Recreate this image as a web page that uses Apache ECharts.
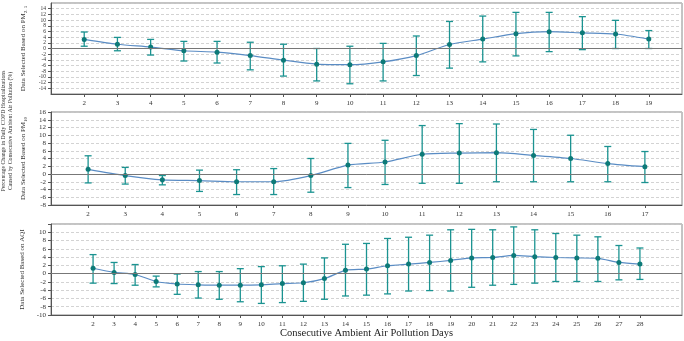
<!DOCTYPE html>
<html>
<head>
<meta charset="utf-8">
<script src="https://cdn.jsdelivr.net/npm/echarts@6/dist/echarts.min.js"></script>
<style>
  html, body { margin: 0; padding: 0; background: #fff; }
  #chart { width: 684px; height: 341px; }
</style>
</head>
<body>
<div id="chart"></div>
<script>
// PM2.5 panel
var days25 = [2, 3, 4, 5, 6, 7, 8, 9, 10, 11, 12, 13, 14, 15, 16, 17, 18, 19];
var pm25Est = [3.2, 1.5, 0.5, -0.8, -1.3, -2.5, -4.1, -5.5, -5.7, -4.7, -2.5, 1.4, 3.3, 5.2, 5.9, 5.5, 5.1, 3.3];
var pm25Low = [0.8, -0.8, -2.3, -4.4, -5.1, -7.5, -9.7, -11.4, -12.4, -11.4, -9.5, -6.9, -4.7, -2.6, -1.1, -0.4, 0.0, 0.0];
var pm25High = [5.8, 3.9, 3.2, 2.5, 2.5, 2.2, 1.5, 0.0, 0.8, 1.8, 4.4, 9.5, 11.4, 12.7, 12.7, 11.2, 9.9, 6.3];

// PM10 panel
var days10 = [2, 3, 4, 5, 6, 7, 8, 9, 10, 11, 12, 13, 14, 15, 16, 17];
var pm10Est = [1.2, -0.4, -1.5, -1.7, -2.0, -2.0, -0.4, 2.3, 3.1, 5.1, 5.4, 5.5, 4.8, 4.0, 2.7, 1.9];
var pm10Low = [-2.3, -2.6, -2.8, -4.5, -5.3, -5.3, -4.7, -3.5, -2.7, -2.4, -2.4, -2.0, -2.0, -2.0, -2.0, -2.2];
var pm10High = [4.7, 1.7, -0.4, 1.0, 1.1, 1.4, 4.0, 7.9, 8.7, 12.5, 13.0, 12.9, 11.5, 10.0, 7.1, 5.8];

// AQI panel
var daysAqi = [2, 3, 4, 5, 6, 7, 8, 9, 10, 11, 12, 13, 14, 15, 16, 17, 18, 19, 20, 21, 22, 23, 24, 25, 26, 27, 28];
var aqiEst = [1.3, 0.3, -0.2, -1.9, -2.5, -2.7, -2.8, -2.8, -2.7, -2.4, -2.2, -1.2, 0.8, 1.1, 1.9, 2.3, 2.7, 3.2, 3.8, 3.9, 4.4, 4.1, 3.9, 3.8, 3.7, 2.7, 2.3];
var aqiLow = [-2.3, -2.4, -2.8, -3.2, -5.0, -5.9, -6.2, -6.8, -7.2, -7.0, -6.7, -6.2, -5.4, -5.2, -4.9, -4.2, -4.1, -4.2, -3.3, -2.8, -2.6, -2.3, -1.9, -1.9, -1.9, -1.5, -1.4];
var aqiHigh = [4.6, 2.7, 2.2, -0.6, -0.1, 0.5, 0.5, 1.2, 1.7, 1.9, 2.3, 3.8, 7.1, 7.3, 8.5, 8.8, 9.3, 10.6, 10.7, 10.6, 11.3, 10.6, 9.7, 9.3, 8.9, 6.8, 6.2];

var FONT = 'Liberation Serif';
var lineColor = '#5a8cc4';
var dotColor = '#0d7a78';
var barColor = '#1b9391';

var panels = [
    { days: days25, est: pm25Est, low: pm25Low, high: pm25High, xmin: 1, xmax: 20, ymin: -16, ymax: 16,
      top: 3, height: 91, labelSize: 5.5, name: '{a|Data Selected Based on PM}{s|2. 5}' },
    { days: days10, est: pm10Est, low: pm10Low, high: pm10High, xmin: 1, xmax: 18, ymin: -8, ymax: 16,
      top: 112, height: 93, labelSize: 7, name: '{a|Data Selected Based on PM}{s|10}' },
    { days: daysAqi, est: aqiEst, low: aqiLow, high: aqiHigh, xmin: 0, xmax: 30, ymin: -10, ymax: 12,
      top: 224, height: 91, labelSize: 7, name: '{a|Data Selected Based on AQI}' }
];

var grids = [], xAxes = [], yAxes = [], series = [];

panels.forEach(function (p, i) {
    grids.push({ left: 51, right: 2, top: p.top, height: p.height, show: true, borderColor: '#888', borderWidth: 1,
                 outerBoundsMode: 'none', containLabel: false });
    xAxes.push({
        type: 'value', gridIndex: i, min: p.xmin, max: p.xmax, interval: 1,
        splitLine: { show: false },
        axisLine: { onZero: false, lineStyle: { color: '#555' } },
        axisTick: { customValues: p.days, length: 3, lineStyle: { color: '#555' } },
        axisLabel: { customValues: p.days, fontFamily: FONT, fontSize: 7, color: '#333', margin: 6 }
    });
    yAxes.push({
        type: 'value', gridIndex: i, min: p.ymin, max: p.ymax, interval: 2,
        name: p.name, nameLocation: 'middle', nameGap: 19,
        nameTextStyle: {
            fontFamily: FONT, color: '#333',
            rich: { a: { fontFamily: FONT, fontSize: 7, color: '#333' }, s: { fontFamily: FONT, fontSize: 5, color: '#333', verticalAlign: 'bottom', padding: [4, 0, 0, 0] } }
        },
        axisLine: { show: true, lineStyle: { color: '#555' } },
        axisTick: { show: true, length: 3, lineStyle: { color: '#555' } },
        axisLabel: {
            fontFamily: FONT, fontSize: p.labelSize, color: '#333', margin: 5,
            formatter: function (v) { return v === 12 && i === 2 ? '' : String(v); }
        },
        splitLine: { show: true, lineStyle: { color: '#c8c8c8', type: [3, 2], width: 0.8 } }
    });

    series.push({
        type: 'custom', xAxisIndex: i, yAxisIndex: i, z: 2, silent: true,
        data: p.days.map(function (d, k) { return [d, p.low[k], p.high[k]]; }),
        encode: { x: 0, y: [1, 2] },
        renderItem: function (params, api) {
            var lo = api.coord([api.value(0), api.value(1)]);
            var hi = api.coord([api.value(0), api.value(2)]);
            var w = 3.5;
            var st = { stroke: barColor, lineWidth: 1.3 };
            return {
                type: 'group',
                children: [
                    { type: 'line', shape: { x1: lo[0], y1: lo[1], x2: hi[0], y2: hi[1] }, style: st },
                    { type: 'line', shape: { x1: lo[0] - w, y1: lo[1], x2: lo[0] + w, y2: lo[1] }, style: st },
                    { type: 'line', shape: { x1: hi[0] - w, y1: hi[1], x2: hi[0] + w, y2: hi[1] }, style: st }
                ]
            };
        }
    });
    series.push({
        type: 'line', xAxisIndex: i, yAxisIndex: i, z: 3, silent: true,
        data: p.days.map(function (d, k) { return [d, p.est[k]]; }),
        smooth: 0.25,
        symbol: 'circle', symbolSize: 5,
        lineStyle: { color: lineColor, width: 1.2 },
        itemStyle: { color: dotColor },
        markLine: {
            silent: true, symbol: 'none', label: { show: false },
            lineStyle: { color: '#777', type: 'solid', width: 1 },
            data: [{ yAxis: 0 }]
        }
    });
});

// invisible grids that only carry the shared y title and the x title
grids.push({ left: 51, right: 2, top: 3, height: 256, show: false, outerBoundsMode: 'none', containLabel: false });
xAxes.push({ type: 'value', gridIndex: 3, show: false, min: 0, max: 1 });
yAxes.push({
    type: 'value', gridIndex: 3, min: 0, max: 1,
    axisLine: { show: false }, axisTick: { show: false }, axisLabel: { show: false }, splitLine: { show: false },
    name: 'Percentage Change in Daily COPD Hospitalizations\nCaused by Consecutive Ambient Air Pollution (%)',
    nameLocation: 'middle', nameGap: 37,
    nameTextStyle: { fontFamily: FONT, fontSize: 5.8, lineHeight: 7, color: '#333', align: 'center' }
});
grids.push({ left: 51, right: 2, top: 224, height: 91, show: false, outerBoundsMode: 'none', containLabel: false });
xAxes.push({
    type: 'value', gridIndex: 4, min: 0, max: 1,
    axisLine: { show: false }, axisTick: { show: false }, axisLabel: { show: false }, splitLine: { show: false },
    name: 'Consecutive Ambient Air Pollution Days', nameLocation: 'middle', nameGap: 13,
    nameTextStyle: { fontFamily: FONT, fontSize: 10.5, color: '#222' }
});
yAxes.push({ type: 'value', gridIndex: 4, show: false, min: 0, max: 1 });

var chart = echarts.init(document.getElementById('chart'), null, { renderer: 'canvas' });
chart.setOption({
    animation: false,
    grid: grids,
    xAxis: xAxes,
    yAxis: yAxes,
    series: series
});
</script>
</body>
</html>
